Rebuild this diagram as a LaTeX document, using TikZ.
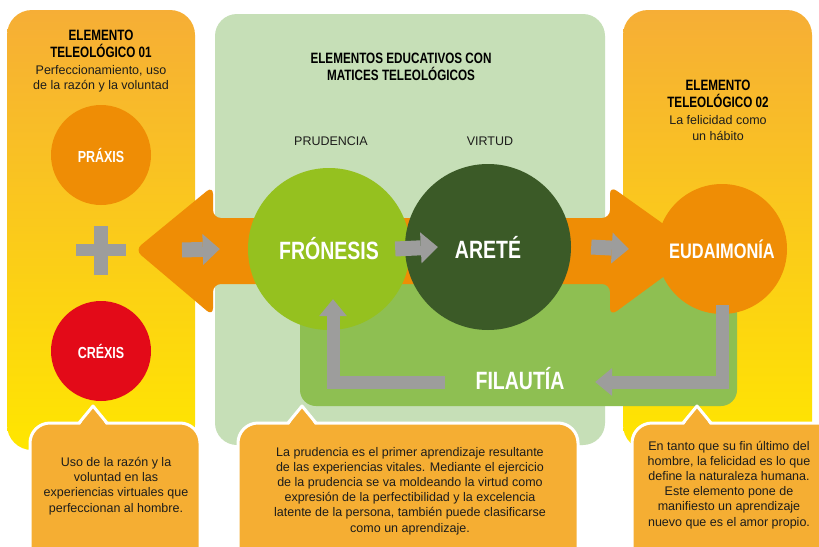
\documentclass[tikz,border=0pt]{standalone}
\usepackage{fontspec}
\setmainfont{Liberation Sans}
\newfontfamily\condfont[FakeStretch=0.78]{Liberation Sans}
\usepackage{xcolor}
\definecolor{panelorange}{HTML}{F6AE36}
\definecolor{panelyellow}{HTML}{FFE600}
\definecolor{panelgreen}{HTML}{C6DFB7}
\definecolor{bandorange}{HTML}{EF8D05}
\definecolor{crexisred}{HTML}{E30A18}
\definecolor{fronesisgreen}{HTML}{95C11F}
\definecolor{aretegreen}{HTML}{3B5A27}
\definecolor{filautiagreen}{HTML}{8EBF52}
\definecolor{arrowgray}{HTML}{9D9D9C}
\definecolor{bubbleorange}{HTML}{F5AE33}
\definecolor{textdark}{HTML}{1D1D1B}
\usepackage{tikz}
\usetikzlibrary{positioning,calc}
\usetikzlibrary{arrows.meta}
\tikzset{
  circ/.style={circle, inner sep=0pt, text=white, font=\condfont\bfseries\fontsize{25}{25}\selectfont},
  smallcirc/.style={circ, minimum size=100pt, font=\condfont\bfseries\fontsize{16}{16}\selectfont},
  headtext/.style={align=center, inner sep=0pt, anchor=base, text=black, font=\condfont\bfseries\fontsize{15}{17}\selectfont},
  bodytext/.style={align=center, inner sep=0pt, anchor=base, text=textdark, font=\fontsize{12.5}{15.2}\selectfont},
  garrow/.style={draw=arrowgray, line width=15pt, -{Triangle[length=17pt,width=31pt,line width=0pt]}},
  fback/.style={draw=arrowgray, line width=13pt, line join=miter, -{Triangle[length=17pt,width=28pt,line width=0pt]}},
  bubble/.style={fill=bubbleorange, draw=white, line width=3pt},
}
\newcommand{\callbox}[3]{%
  \draw[bubble, rounded corners=20pt] (#1,423) rectangle (#2,580);
  \fill[bubbleorange] (#3-13,425) -- (#3,406) -- (#3+13,425) -- cycle;
  \draw[white, line width=3pt, line join=round] (#3-14,423) -- (#3,406) -- (#3+14,423);
}

\begin{document}
\begin{tikzpicture}[x=1pt,y=-1pt]

\useasboundingbox (0,0) rectangle (819,546);
\clip (0,0) rectangle (819,546);
\fill[white] (0,0) rectangle (819,546);

\shade[top color=panelorange, bottom color=panelyellow, rounded corners=25pt] (7,10) rectangle (195,450);
\shade[top color=panelorange, bottom color=panelyellow, rounded corners=25pt] (623,10) rectangle (812,450);
\fill[panelgreen, rounded corners=22pt] (215,14) rectangle (605,445);

\fill[filautiagreen, rounded corners=16pt] (300,260) rectangle (737,406);

\fill[bandorange, rounded corners=8pt] (135,250) -- (213,186) -- (213,218) -- (610,218) -- (610,186)
  -- (700,250) -- (610,316) -- (610,284) -- (213,284) -- (213,316) -- cycle;

\node[headtext] (head1) at (101,57) {ELEMENTO\\TELEOLÓGICO 01};
\node[bodytext, font=\fontsize{12.5}{14.5}\selectfont] (sub1) at (101,89) {Perfeccionamiento, uso\\de la razón y la voluntad};
\node[headtext] (head2) at (401,80) {ELEMENTOS EDUCATIVOS CON\\MATICES TELEOLÓGICOS};
\node[headtext] (head3) at (718,107) {ELEMENTO\\TELEOLÓGICO 02};
\node[bodytext] (sub3) at (718,140) {La felicidad como\\un hábito};
\node[bodytext] (prudencia) at (331,145) {PRUDENCIA};
\node[bodytext] (virtud) at (490,145) {VIRTUD};

\node[smallcirc, fill=bandorange] (praxis) at (101,155) {PRÁXIS};
\node[smallcirc, fill=crexisred] (crexis) at (101,351) {CRÉXIS};
\fill[arrowgray] (76,244) rectangle (126,256);
\fill[arrowgray] (94,226) rectangle (108,275);

\node[circ, fill=fronesisgreen, minimum size=162pt] (fronesis) at (329,249) {FRÓNESIS};
\node[circ, fill=aretegreen, minimum size=166pt] (arete) at (488,247) {ARETÉ};
\node[circ, fill=bandorange, minimum size=130pt, font=\condfont\bfseries\fontsize{21}{21}\selectfont] (eudaimonia) at (722,249) {EUDAIMONÍA};

\coordinate (lefthead) at (182,250);
\draw[garrow] (lefthead) -- ([xshift=-28pt]fronesis.west);
\draw[garrow] ([xshift=-15pt]fronesis.east) -- ([xshift=33pt]arete.west);
\draw[garrow] ([xshift=20pt]arete.east) -- ([xshift=-28pt]eudaimonia.west);

\node[circ, shape=rectangle, minimum width=150pt] (filautia) at (520,379) {FILAUTÍA};
\draw[fback] ([yshift=9pt]eudaimonia.south) |- ([yshift=-3pt]filautia.east);
\draw[fback] ([yshift=-3pt]filautia.west) -| ([xshift=4pt,yshift=31pt]fronesis.south);

\callbox{30}{200}{93}
\callbox{238}{578}{302}
\callbox{632}{840}{697}

\node[bodytext] (text1) at (116,512) {Uso de la razón y la\\voluntad en las\\experiencias virtuales que\\perfeccionan al hombre.};
\node[bodytext] (text2) at (410,532) {La prudencia es el primer aprendizaje resultante\\de las experiencias vitales. Mediante el ejercicio\\de la prudencia se va moldeando la virtud como\\expresión de la perfectibilidad y la excelencia\\latente de la persona, también puede clasificarse\\como un aprendizaje.};
\node[bodytext] (text3) at (729,526) {En tanto que su fin último del\\hombre, la felicidad es lo que\\define la naturaleza humana.\\Este elemento pone de\\manifiesto un aprendizaje\\nuevo que es el amor propio.};

\end{tikzpicture}
\end{document}
